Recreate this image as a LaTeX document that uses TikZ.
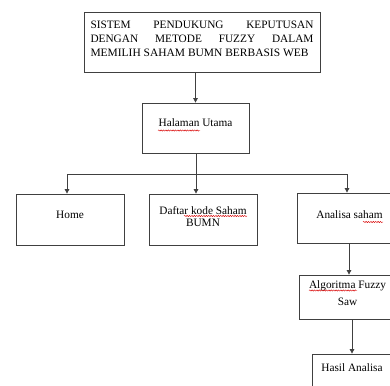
\documentclass[tikz,border=0pt]{standalone}
\usepackage{fontspec}
\setmainfont{Liberation Serif}
\usetikzlibrary{arrows.meta,decorations.pathmorphing}
\newcommand{\bxtext}[2]{\raisebox{#1}[\height][\depth]{\begin{tabular}{@{}c@{}}#2\end{tabular}}}
\tikzset{
  box/.style={draw=black!75, line width=0.8pt, inner sep=0pt, fill=white,
    font=\fontsize{11.3}{12.6}\selectfont},
  conn/.style={draw=black!75, line width=0.8pt},
  arr/.style={conn, -{Triangle[width=4.5pt,length=4.5pt]}},
  spell/.style={draw=red!85!black, line width=0.45pt, decorate,
    decoration={snake, amplitude=0.6pt, segment length=2.4pt}}
}
\begin{document}
\begin{tikzpicture}[x=1pt,y=-1pt]
\useasboundingbox (0,0) rectangle (390,385);
\fill[white] (0,0) rectangle (390,385);

\node[box, minimum width=236pt, minimum height=60pt] (title) at (202,42)
  {\raisebox{3pt}[\height][\depth]{\parbox{223pt}{\fontsize{11.3}{14.3}\selectfont\hyphenpenalty=10000
  SISTEM PENDUKUNG KEPUTUSAN\linebreak DENGAN METODE FUZZY DALAM\linebreak \resizebox{218pt}{\height}{MEMILIH SAHAM BUMN BERBASIS WEB}}}};

\node[box, minimum width=107pt, minimum height=50pt] (hal) at (195.5,128) {\bxtext{4pt}{Halaman Utama}};

\node[box, minimum width=108pt, minimum height=51pt] (home) at (70,219.5) {\bxtext{3.5pt}{Home}};
\node[box, minimum width=108pt, minimum height=51pt] (daftar) at (203,219.5) {\bxtext{1.5pt}{Daftar kode Saham\\BUMN}};
\node[box, minimum width=105pt, minimum height=50pt] (analisa) at (349.5,218) {\bxtext{2pt}{Analisa saham}};

\node[box, minimum width=97pt, minimum height=44pt] (algo) at (347.5,297) {\bxtext{2.5pt}{Algoritma Fuzzy\\[4.4pt]Saw}};
\node[box, minimum width=80pt, minimum height=50pt] (hasil) at (352,379) {\bxtext{10pt}{Hasil Analisa}};

% connectors
\draw[arr] (hal.north |- title.south) -- (hal.north);
\coordinate (bus) at (196,174);
\coordinate (busL) at (67,174);
\coordinate (busR) at (347,174);
\draw[conn] (hal.south -| bus) -- (bus);
\draw[conn] (busL) -- (busR);
\draw[arr] (busL) -- (busL |- home.north);
\draw[arr] (bus) -- (bus |- daftar.north);
\draw[arr] (busR) -- (busR |- analisa.north);
\coordinate (aa) at (349,243);
\draw[arr] (aa) -- (aa |- algo.north);
\draw[arr] (hasil.north |- algo.south) -- (hasil.north);

% spell-check marks
\draw[spell] (158,130.5) -- (200,130.5);
\draw[spell] (184,216) -- (247,216);
\draw[spell] (363,222) -- (383,222);
\draw[spell] (309,290.5) -- (357,290.5);
\end{tikzpicture}
\end{document}
